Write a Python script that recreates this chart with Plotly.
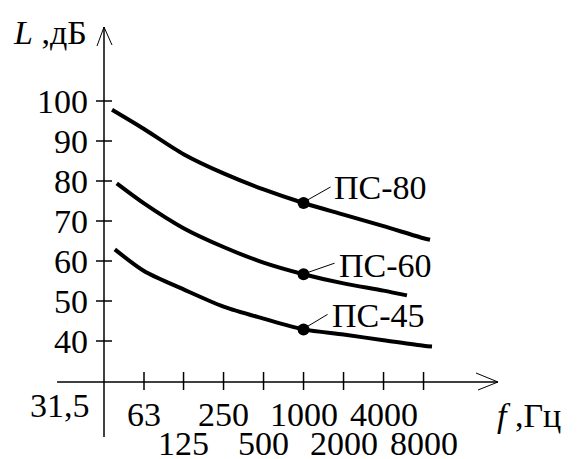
import math
import plotly.graph_objects as go

# ---------------- data ----------------
TICK_FREQS = [31.5, 63, 125, 250, 500, 1000, 2000, 4000, 8000]
TICK_LABELS = ["31,5", "63", "125", "250", "500", "1000", "2000", "4000", "8000"]
Y_TICKS = [40, 50, 60, 70, 80, 90, 100]

PS80_F = [36.2, 63, 125, 250, 500, 1000, 2000, 4000, 8000, 8950]
PS80_L = [97.8, 93.0, 86.7, 81.9, 77.9, 74.5, 71.6, 68.7, 65.7, 65.3]

PS60_F = [39.3, 63, 125, 250, 500, 1000, 2000, 4000, 6000]
PS60_L = [79.4, 74.4, 68.2, 63.5, 59.6, 56.7, 54.4, 52.6, 51.4]

PS45_F = [38.0, 63, 125, 250, 500, 1000, 2000, 4000, 8000, 9260]
PS45_L = [62.9, 57.5, 52.9, 48.6, 45.6, 42.9, 41.6, 40.2, 38.8, 38.6]

CURVE_NAMES = ["ПС-80", "ПС-60", "ПС-45"]
DOT_FREQ = 1000
DOT_LEVELS = [74.5, 56.7, 42.9]

X_AXIS_DB = 29.75        # level where the frequency axis is drawn
Y_AXIS_TOP_DB = 118.5
Y_AXIS_BOTTOM_DB = 16.0
X_AXIS_LEFT_F = 13.97
X_AXIS_RIGHT_F = 29070

FONT = '"Liberation Serif", "Times New Roman", Times, serif'
FS = 34

WIN_W, WIN_H = 579, 459
OFF = 8                      # default page margin around the plot div
W, H = WIN_W - OFF, WIN_H - OFF
lg = math.log10
PX_PER_OCT = 40.0
PX_PER_DB = 4.0


def fx(f, dpx):
    """frequency shifted by dpx screen pixels"""
    return f * 2 ** (dpx / PX_PER_OCT)


def ly(v, dpx_up):
    """level shifted by dpx_up screen pixels upward"""
    return v + dpx_up / PX_PER_DB


fig = go.Figure()

for f, l in [(PS80_F, PS80_L), (PS60_F, PS60_L), (PS45_F, PS45_L)]:
    fig.add_trace(go.Scatter(x=f, y=l, mode="lines",
                             line=dict(color="black", width=4, shape="spline", smoothing=0.8),
                             showlegend=False, hoverinfo="skip"))

fig.add_trace(go.Scatter(x=[DOT_FREQ] * 3, y=DOT_LEVELS, mode="markers",
                         marker=dict(color="black", size=12),
                         showlegend=False, hoverinfo="skip"))

# axes and ticks
f0 = TICK_FREQS[0]
ax_x, ax_y = [], []
ax_x += [f0, f0, None]; ax_y += [Y_AXIS_BOTTOM_DB, Y_AXIS_TOP_DB, None]
ax_x += [X_AXIS_LEFT_F, X_AXIS_RIGHT_F, None]; ax_y += [X_AXIS_DB, X_AXIS_DB, None]
for f in TICK_FREQS[1:]:
    ax_x += [f, f, None]; ax_y += [ly(X_AXIS_DB, 10), ly(X_AXIS_DB, -8), None]
for v in Y_TICKS:
    ax_x += [fx(f0, -8), fx(f0, 8), None]; ax_y += [v, v, None]
fig.add_trace(go.Scatter(x=ax_x, y=ax_y, mode="lines", line=dict(color="black", width=1.5),
                         showlegend=False, hoverinfo="skip"))

# arrowheads and leader lines
th_x, th_y = [], []
th_x += [fx(f0, -7), f0, fx(f0, 8), None]
th_y += [ly(Y_AXIS_TOP_DB, -19), Y_AXIS_TOP_DB, ly(Y_AXIS_TOP_DB, -18), None]
th_x += [fx(X_AXIS_RIGHT_F, -22), X_AXIS_RIGHT_F, fx(X_AXIS_RIGHT_F, -20), None]
th_y += [ly(X_AXIS_DB, 9), X_AXIS_DB, ly(X_AXIS_DB, -8), None]
leaders = [((4, 3), (27, 16)), ((5, 2), (31, 11)), ((4, 3), (24, 15))]
for lvl, (p0, p1) in zip(DOT_LEVELS, leaders):
    th_x += [fx(DOT_FREQ, p0[0]), fx(DOT_FREQ, p1[0]), None]
    th_y += [ly(lvl, p0[1]), ly(lvl, p1[1]), None]
fig.add_trace(go.Scatter(x=th_x, y=th_y, mode="lines", line=dict(color="black", width=1),
                         showlegend=False, hoverinfo="skip"))

ann = []
font = dict(family=FONT, size=FS, color="black")
for v in Y_TICKS:
    ann.append(dict(x=lg(f0), y=v, xref="x", yref="y", text=str(v), showarrow=False,
                    xanchor="right", yanchor="middle", xshift=-14, font=font))
for i, (f, t) in enumerate(zip(TICK_FREQS, TICK_LABELS)):
    if i == 0:
        ann.append(dict(x=lg(f), y=X_AXIS_DB, xref="x", yref="y", text=t, showarrow=False,
                        xanchor="right", yanchor="middle", xshift=-12, yshift=-23, font=font))
    else:
        ys = -32 if i % 2 == 1 else -61
        ann.append(dict(x=lg(f), y=X_AXIS_DB, xref="x", yref="y", text=t, showarrow=False,
                        xanchor="center", yanchor="middle", yshift=ys, font=font))
label_off = [(28, 16), (33, 9), (26, 14)]
for name, lvl, (xs, ys) in zip(CURVE_NAMES, DOT_LEVELS, label_off):
    ann.append(dict(x=lg(DOT_FREQ), y=lvl, xref="x", yref="y", text=name, showarrow=False,
                    xanchor="left", yanchor="middle", xshift=xs, yshift=ys, font=font))
ann.append(dict(x=(89 - OFF) / W, y=1 - (32 - OFF) / H, xref="paper", yref="paper",
                text="<i>L</i> ,дБ", showarrow=False, xanchor="right", yanchor="middle", font=font))
ann.append(dict(x=(495 - OFF) / W, y=1 - (415 - OFF) / H, xref="paper", yref="paper",
                text="<i>f</i> ,Гц", showarrow=False, xanchor="left", yanchor="middle", font=font))

# screen mapping: 31.5 Hz at x=104 px, 40 px per octave; 100 dB at y=101 px, 4 px per dB
xr0 = lg(31.5) - ((104 - OFF) / PX_PER_OCT) * lg(2)
xr1 = lg(31.5) + ((WIN_W - 104) / PX_PER_OCT) * lg(2)
yr1 = 100 + (101 - OFF) / PX_PER_DB
yr0 = 100 - (WIN_H - 101) / PX_PER_DB

fig.update_layout(
    width=W, height=H, autosize=False,
    margin=dict(l=0, r=0, t=0, b=0),
    paper_bgcolor="white", plot_bgcolor="white",
    xaxis=dict(type="log", range=[xr0, xr1], visible=False, fixedrange=True),
    yaxis=dict(range=[yr0, yr1], visible=False, fixedrange=True),
    annotations=ann,
)

fig.write_html("out.html")
